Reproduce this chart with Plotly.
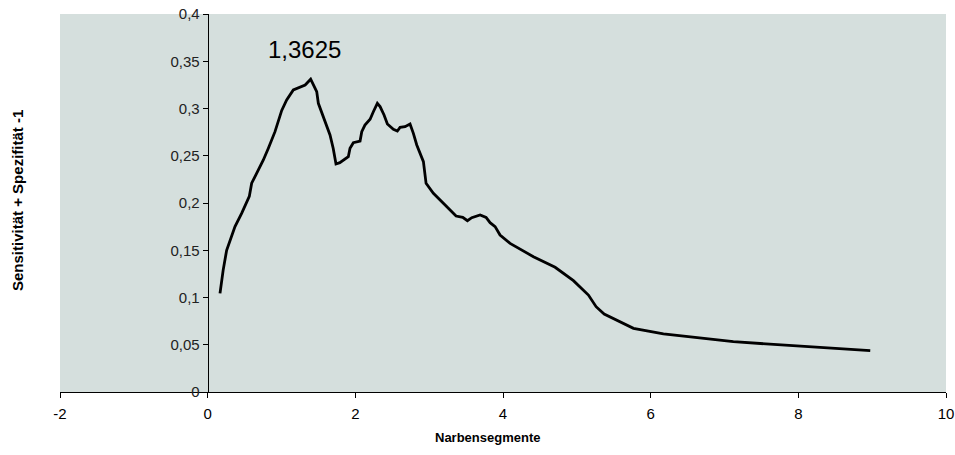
import plotly.graph_objects as go

# Data
x_vals = [0.167, 0.21, 0.257, 0.37, 0.46, 0.564, 0.596, 0.664, 0.754, 0.822, 0.912,
          1.003, 1.07, 1.16, 1.25, 1.32, 1.395, 1.477, 1.499, 1.567, 1.657, 1.70,
          1.738, 1.79, 1.905, 1.928, 1.973, 2.064, 2.087, 2.13, 2.2, 2.244, 2.298,
          2.335, 2.389, 2.434, 2.515, 2.569, 2.606, 2.673, 2.741, 2.786, 2.832,
          2.922, 2.958, 3.057, 3.193, 3.26, 3.364, 3.455, 3.518, 3.577, 3.69,
          3.771, 3.825, 3.893, 3.96, 4.096, 4.412, 4.706, 4.954, 5.157, 5.261,
          5.37, 5.767, 6.173, 7.12, 8.974]
y_vals = [0.1044, 0.129, 0.150, 0.175, 0.189, 0.207, 0.221, 0.231, 0.2455, 0.258, 0.2755,
          0.298, 0.309, 0.3196, 0.3224, 0.3249, 0.331, 0.3178, 0.3055, 0.2914, 0.272, 0.258,
          0.2413, 0.2427, 0.249, 0.258, 0.2638, 0.2656, 0.2755, 0.2825, 0.2886, 0.2966, 0.3055,
          0.302, 0.2931, 0.2836, 0.278, 0.2762, 0.280, 0.2808, 0.2836, 0.2737, 0.2614,
          0.2437, 0.2208, 0.2103, 0.199, 0.1944, 0.1862, 0.1849, 0.1813, 0.1845, 0.1873,
          0.1848, 0.1792, 0.175, 0.1661, 0.1573, 0.1432, 0.132, 0.1178, 0.1026, 0.0903,
          0.0825, 0.0674, 0.0614, 0.0532, 0.0437]

x_tick_vals = [-2, 0, 2, 4, 6, 8, 10]
x_tick_text = ["-2", "0", "2", "4", "6", "8", "10"]
y_tick_vals = [0, 0.05, 0.1, 0.15, 0.2, 0.25, 0.3, 0.35, 0.4]
y_tick_text = ["0", "0,05", "0,1", "0,15", "0,2", "0,25", "0,3", "0,35", "0,4"]

peak_label = "1,3625"
x_title = "Narbensegmente"
y_title = "Sensitivität + Spezifität -1"

FONT = "Arial, 'Liberation Sans', sans-serif"

W, H = 955, 455
ML, MR, MT, MB = 60, 9, 14, 63

fig = go.Figure()
fig.add_trace(go.Scatter(x=x_vals, y=y_vals, mode="lines",
                         line=dict(color="black", width=2.8), showlegend=False,
                         hoverinfo="skip"))

pw, ph = W - ML - MR, H - MT - MB


def px_to_paper(px, py):
    return (px - ML) / pw, (H - MB - py) / ph


xt_x, xt_y = px_to_paper(487, 437)
yt_x, yt_y = px_to_paper(18, 201)

fig.update_layout(
    width=W, height=H, autosize=False,
    margin=dict(l=ML, r=MR, t=MT, b=MB, pad=0),
    paper_bgcolor="white",
    plot_bgcolor="#d5dfdd",
    font=dict(family=FONT, size=15, color="black"),
    xaxis=dict(range=[-2, 10], domain=[0, 1], tickvals=x_tick_vals, ticktext=x_tick_text,
               ticks="outside", ticklen=5, tickcolor="black", showline=True,
               linecolor="black", linewidth=1, showgrid=False, zeroline=False,
               automargin=False, ticklabelstandoff=3,
               tickfont=dict(size=15, family=FONT, color="black")),
    yaxis=dict(range=[0, 0.4], anchor="free", position=1/6, tickvals=y_tick_vals,
               ticktext=y_tick_text, ticks="outside", ticklen=5, tickcolor="black",
               showline=True, linecolor="black", linewidth=1, showgrid=False,
               zeroline=False, automargin=False,
               tickfont=dict(size=15, family=FONT, color="#222")),
    annotations=[
        dict(x=1.318, y=0.362, xref="x", yref="y", text=peak_label, showarrow=False,
             xanchor="center", yanchor="middle",
             font=dict(size=24, family=FONT, color="black")),
        dict(x=xt_x, y=xt_y, xref="paper", yref="paper", text="<b>" + x_title + "</b>",
             showarrow=False, xanchor="center", yanchor="middle",
             font=dict(size=13, family=FONT, color="black")),
        dict(x=yt_x, y=yt_y, xref="paper", yref="paper", text="<b>" + y_title + "</b>",
             showarrow=False, textangle=-90, xanchor="center", yanchor="middle",
             font=dict(size=15, family=FONT, color="black")),
    ],
)

fig.write_html("out.html")
